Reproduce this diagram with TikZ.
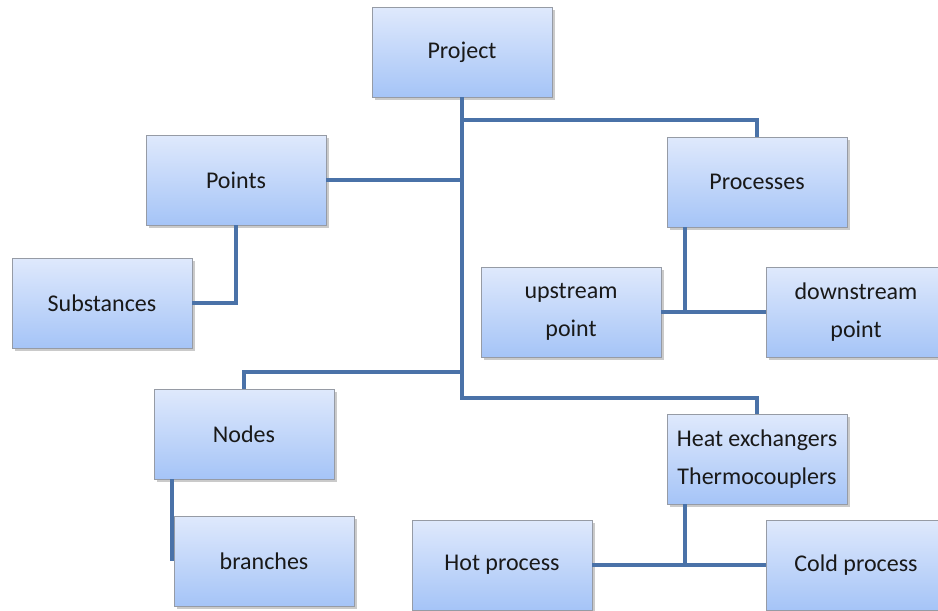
\documentclass[tikz,border=0pt]{standalone}
\usepackage{fontspec}
\setmainfont{Carlito}
\usetikzlibrary{shadows,calc}
\definecolor{linkblue}{RGB}{74,114,168}
\definecolor{boxtop}{RGB}{223,233,252}
\definecolor{boxbot}{RGB}{165,196,247}
\definecolor{boxedge}{RGB}{150,155,165}
\definecolor{txt}{RGB}{25,25,25}
\begin{document}
\begin{tikzpicture}[x=1pt,y=-1pt,
  box/.style={draw=boxedge, line width=0.8pt, top color=boxtop, bottom color=boxbot,
    minimum width=180pt, minimum height=90pt, inner sep=0pt, align=center,
    font=\fontsize{24}{38}\selectfont, text=txt,
    drop shadow={shadow xshift=2.5pt, shadow yshift=-2.5pt, opacity=0.35, fill=black!60}},
  link/.style={draw=linkblue, line width=4pt}]
\useasboundingbox (0,0) rectangle (938,611);
% connectors
\coordinate (tb) at (462,398);
\coordinate (j1) at (462,120);
\coordinate (j2) at (462,372);
\node[box] (proj) at (462,52) {Project};
\node[box] (pts) at (236,180) {Points};
\node[box] (subs) at (102,303) {Substances};
\node[box] (proc) at (757,182) {Processes};
\node[box] (up) at (571,312) {upstream\\point};
\node[box] (down) at (856,312) {downstream\\point};
\node[box] (nodes) at (244,434) {Nodes};
\node[box] (br) at (264,561) {branches};
\node[box] (hot) at (502,565) {Hot process};
\node[box] (heat) at (757,459) {Heat exchangers\\Thermocouplers};
\node[box] (cold) at (856,565) {Cold process};
\draw[link] (proj.south) -- (tb) -| (heat.north);
\draw[link] (j1) -| (proc.north);
\draw[link] (pts.east) -- (pts.east -| proj.south);
\draw[link] (pts.south) |- (subs.east);
\draw[link] (j2) -| (nodes.north);
\draw[link] ([xshift=-72pt]proc.south) -- ([xshift=-72pt]proc.south |- up.east);
\draw[link] (up.east) -- (down.west);
\draw[link] ([xshift=-72pt]nodes.south) -- ([xshift=-72pt]nodes.south |- br.west);
\draw[link] ([xshift=-72pt]heat.south) -- ([xshift=-72pt]heat.south |- hot.east);
\draw[link] (hot.east) -- (cold.west);
\end{tikzpicture}
\end{document}
